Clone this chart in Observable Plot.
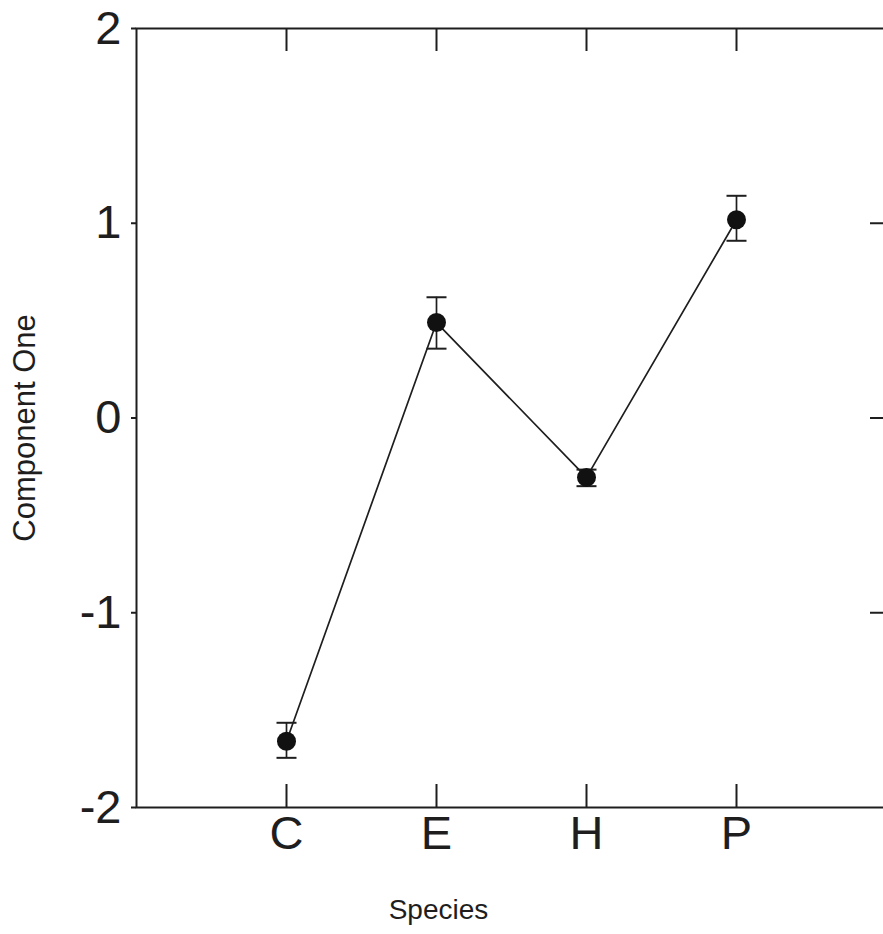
<!DOCTYPE html>
<html>
<head>
<meta charset="utf-8">
<script src="https://cdn.jsdelivr.net/npm/d3@7"></script>
<script src="https://cdn.jsdelivr.net/npm/@observablehq/plot@0.6"></script>
<style>
  html, body { margin: 0; padding: 0; background: white; overflow: hidden; }
</style>
</head>
<body>
<div id="chart"></div>
<script>
const species = ["C", "E", "H", "P"];
const means = [-1.66, 0.49, -0.305, 1.018];
const upper = [-1.565, 0.62, -0.265, 1.141];
const lower = [-1.745, 0.356, -0.35, 0.91];
const yTicks = [-2, -1, 0, 1, 2];
const xLabel = "Species";
const yLabel = "Component One";

const data = species.map((s, i) => ({species: s, mean: means[i], hi: upper[i], lo: lower[i]}));

const ink = "#1e1e1e";
const font = "'Liberation Sans', Arial, Helvetica, sans-serif";

// horizontal cap symbol for error bars (half-width = r)
const capSymbol = {
  draw(context, size) {
    const w = Math.sqrt(size / Math.PI);
    context.moveTo(-w, 0);
    context.lineTo(w, 0);
  }
};

const chart = Plot.plot({
  width: 887,
  height: 934,
  marginLeft: 136,
  marginRight: 1,
  marginTop: 28,
  marginBottom: 127,
  style: {fontFamily: font, color: ink, background: "white", maxWidth: "none", overflow: "visible"},
  x: {type: "point", domain: species, padding: 1},
  y: {domain: [-2, 2]},
  marks: [
    Plot.frame({stroke: ink, strokeWidth: 2}),
    Plot.axisY({anchor: "left", ticks: yTicks, tickSize: 5, tickPadding: 10, fontSize: 47, tickFormat: d => String(d), strokeWidth: 2, label: null}),
    Plot.axisY({anchor: "right", ticks: yTicks.slice(1, -1), tickSize: -17, tickFormat: () => "", strokeWidth: 2, label: null}),
    Plot.axisX({anchor: "top", tickSize: -22, tickFormat: () => "", strokeWidth: 2, label: null}),
    Plot.axisX({anchor: "bottom", tickSize: -23, tickFormat: () => "", strokeWidth: 2, label: null}),
    Plot.axisX({anchor: "bottom", tickSize: 0, tickPadding: 8, fontSize: 47, label: null}),
    Plot.text([xLabel], {text: d => d, frameAnchor: "bottom", dx: -73, dy: 103, fontSize: 28, textAnchor: "middle", lineAnchor: "middle", fill: ink}),
    Plot.text([yLabel], {text: d => d, frameAnchor: "left", dx: -111, dy: 10, rotate: -90, fontSize: 31, textAnchor: "middle", lineAnchor: "middle", fill: ink}),
    Plot.line(data, {x: "species", y: "mean", stroke: ink, strokeWidth: 1.7}),
    Plot.ruleX(data, {x: "species", y1: "lo", y2: "hi", stroke: ink, strokeWidth: 1.7}),
    Plot.dot(data, {x: "species", y: "hi", symbol: capSymbol, r: 10, stroke: ink, fill: "none", strokeWidth: 2}),
    Plot.dot(data, {x: "species", y: "lo", symbol: capSymbol, r: 10, stroke: ink, fill: "none", strokeWidth: 2}),
    Plot.dot(data, {x: "species", y: "mean", r: 9.5, fill: "#111", stroke: "none"})
  ]
});
document.getElementById("chart").appendChild(chart);
</script>
</body>
</html>
